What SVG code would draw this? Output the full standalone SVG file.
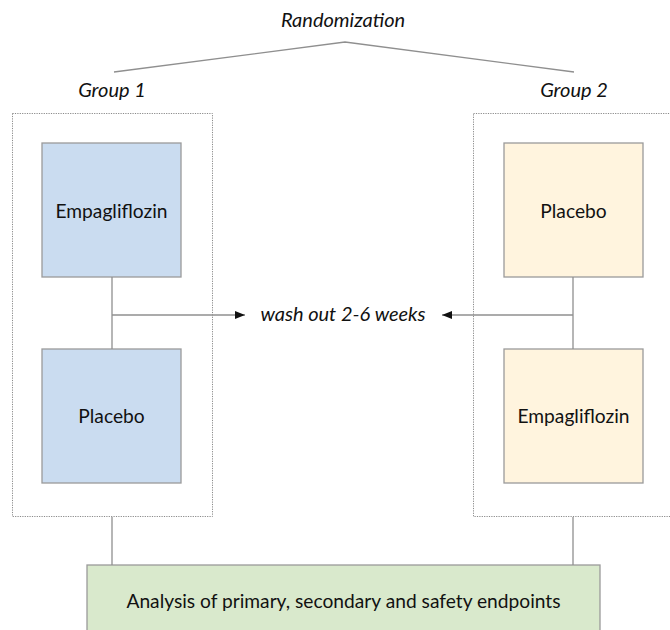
<svg xmlns="http://www.w3.org/2000/svg" width="670" height="630" viewBox="0 0 670 630">
<style>
text{font-family:Lato,"Open Sans","Liberation Sans",sans-serif;font-size:19.2px;fill:#111;text-anchor:middle}
.it{font-style:italic;font-size:20px}
.grp{fill:none;stroke:#8a8a8a;stroke-width:1;stroke-dasharray:1.2 1.2}
.box{stroke:#9a9a9a;stroke-width:1.3}
.blue{fill:#cadcf0}
.cream{fill:#fff4de}
.green{fill:#d9e9cc}
.ln{fill:none;stroke:#8f8f8f;stroke-width:1.3}
</style>
<defs>
<marker id="ah" viewBox="0 0 10 10" refX="10" refY="5" markerWidth="10" markerHeight="10" markerUnits="userSpaceOnUse" orient="auto">
<path d="M0,1 L10,5 L0,9 Z" fill="#111"/>
</marker>
</defs>
<g id="randomization"><text class="it" x="343" y="27">Randomization</text></g>
<g id="group1-label"><text class="it" x="112" y="97">Group 1</text></g>
<g id="group2-label"><text class="it" x="574" y="97">Group 2</text></g>
<g id="group1"><rect class="grp" x="12.5" y="113.5" width="200" height="403"/></g>
<g id="group2"><rect class="grp" x="473.5" y="113.5" width="210" height="403"/></g>
<g id="g1-empa"><rect class="box blue" x="42" y="143" width="139" height="134"/><text x="111.5" y="218">Empagliflozin</text></g>
<g id="g1-placebo"><rect class="box blue" x="42" y="349" width="139" height="134"/><text x="111.5" y="423">Placebo</text></g>
<g id="g2-placebo"><rect class="box cream" x="504" y="143" width="139" height="134"/><text x="573.5" y="218">Placebo</text></g>
<g id="g2-empa"><rect class="box cream" x="504" y="349" width="139" height="134"/><text x="573.5" y="423">Empagliflozin</text></g>
<g id="washout"><text class="it" x="343" y="321">wash out 2-6 weeks</text></g>
<g id="analysis"><rect class="box green" x="87" y="565" width="513" height="80"/><text x="343.5" y="608">Analysis of primary, secondary and safety endpoints</text></g>
<g id="connectors">
<polyline class="ln" points="114,72 345,42 574,72"/>
<line class="ln" x1="112" y1="277" x2="112" y2="349"/>
<line class="ln" x1="573" y1="277" x2="573" y2="349"/>
<line class="ln" x1="112" y1="315" x2="245" y2="315" marker-end="url(#ah)"/>
<line class="ln" x1="573" y1="315" x2="442" y2="315" marker-end="url(#ah)"/>
<line class="ln" x1="112" y1="517" x2="112" y2="565"/>
<line class="ln" x1="573" y1="517" x2="573" y2="565"/>
</g>
</svg>
